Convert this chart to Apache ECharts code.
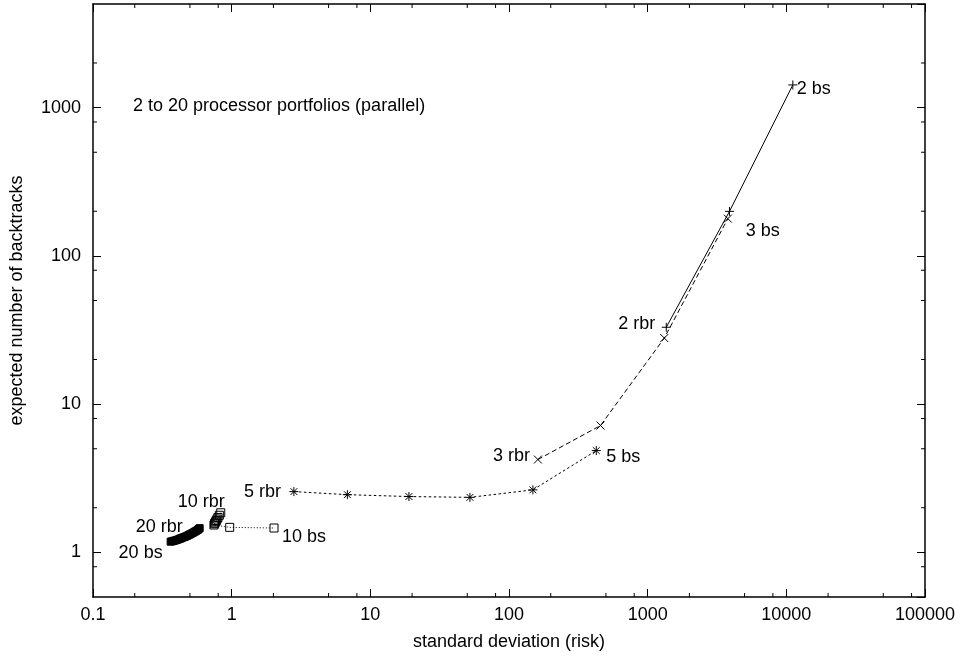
<!DOCTYPE html>
<html>
<head>
<meta charset="utf-8">
<title>Processor portfolios: risk vs expected backtracks</title>
<script src="https://cdn.jsdelivr.net/npm/echarts@6/dist/echarts.min.js"></script>
<style>
  html, body { margin: 0; padding: 0; background: #fff; }
  #chart { width: 960px; height: 657px; }
</style>
</head>
<body>
<div id="chart"></div>
<script>
// Portfolios of 2, 3, 5, 10 and 20 processors, running a mix of
// rbr and bs solvers in parallel. Each point is one mix.
const risk2 = [1362, 3890, 11140];
const back2 = [33.0, 199.6, 1423];

const risk3 = [161.6, 457, 1318, 3786];
const back3 = [4.23, 7.17, 27.9, 178.3];

const risk5 = [2.81, 6.83, 18.98, 52.3, 148.7, 426];
const back5 = [2.57, 2.45, 2.38, 2.35, 2.64, 4.86];

const risk10 = [0.834, 0.815, 0.797, 0.785, 0.775, 0.767, 0.758, 0.752, 0.745, 0.968, 2.02];
const back10 = [1.85, 1.78, 1.72, 1.68, 1.64, 1.61, 1.58, 1.56, 1.53, 1.475, 1.46];

const risk20 = [0.588, 0.578, 0.569, 0.555, 0.541, 0.528, 0.515, 0.502, 0.490, 0.478, 0.466,
                0.455, 0.443, 0.432, 0.422, 0.411, 0.401, 0.391, 0.382, 0.372, 0.363];
const back20 = [1.457, 1.436, 1.417, 1.397, 1.377, 1.359, 1.341, 1.325, 1.309, 1.294, 1.280,
                1.269, 1.257, 1.245, 1.234, 1.222, 1.212, 1.203, 1.196, 1.188, 1.181];

// End-point names for each portfolio line
const endNames2 = ['2 rbr', '2 bs'];
const endNames3 = ['3 rbr', '3 bs'];
const endNames5 = ['5 rbr', '5 bs'];
const endNames10 = ['10 rbr', '10 bs'];
const endNames20 = ['20 rbr', '20 bs'];

const plotTitle = '2 to 20 processor portfolios (parallel)';
const xAxisTitle = 'standard deviation (risk)';
const yAxisTitle = 'expected number of backtracks';

// Axis ranges and the minor tick marks (2, 5, 8 within each decade)
const xRange = [0.1, 100000];
const yRange = [0.5, 5000];
const xMinorTicks = [0.2, 0.5, 0.8, 2, 5, 8, 20, 50, 80, 200, 500, 800,
                     2000, 5000, 8000, 20000, 50000, 80000];
const yMinorTicks = [0.8, 2, 5, 8, 20, 50, 80, 200, 500, 800, 2000];

const FONT = '"Liberation Sans", Arial, Helvetica, sans-serif';
const INK = '#000';

const SYM_PLUS = 'path://M0,5L10,5M5,0L5,10';
const SYM_CROSS = 'path://M0,0L10,10M10,0L0,10';
const SYM_STAR = 'path://M0,5L10,5M5,0L5,10M1.2,1.2L8.8,8.8M8.8,1.2L1.2,8.8';
const SYM_BOX = 'path://M0,0L10,0L10,10L0,10Z';

function makeData(xs, ys, names, labelFirst, labelLast) {
  return xs.map((x, i) => {
    const item = { value: [x, ys[i]] };
    let spec = null, text = null;
    if (i === 0) { spec = labelFirst; text = names[0]; }
    if (i === xs.length - 1) { spec = labelLast; text = names[1]; }
    if (spec) {
      item.label = {
        show: true,
        formatter: text,
        position: 'inside',
        align: spec.align,
        verticalAlign: 'middle',
        color: INK,
        fontFamily: FONT,
        fontSize: 18
      };
    }
    return item;
  });
}

function lineSeries(name, xs, ys, names, labelFirst, labelLast, symbol, size, dash, fill) {
  const last = xs.length - 1;
  return {
    name: name,
    type: 'line',
    data: makeData(xs, ys, names, labelFirst, labelLast),
    symbol: symbol,
    symbolSize: size,
    showAllSymbol: true,
    animation: false,
    lineStyle: { color: INK, width: 1, type: dash },
    itemStyle: { color: fill, borderColor: INK, borderWidth: 1 },
    label: { show: false },
    // shift each end label away from its point
    labelLayout: params => {
      const spec = params.dataIndex === 0 ? labelFirst : (params.dataIndex === last ? labelLast : null);
      if (!spec) return {};
      return { dx: spec.offset[0], dy: spec.offset[1], hideOverlap: false, moveOverlap: null };
    },
    emphasis: { disabled: true },
    z: 3
  };
}

const axisText = { color: INK, fontFamily: FONT, fontSize: 18 };
const fmt = v => String(+(+v).toPrecision(6));

function xAxisDef(pos, withLabels) {
  return {
    type: 'log', logBase: 10, position: pos,
    min: xRange[0], max: xRange[1],
    name: withLabels ? xAxisTitle : '',
    nameLocation: 'middle', nameGap: 36,
    nameTextStyle: axisText,
    axisLine: { show: true, onZero: false, lineStyle: { color: INK, width: 1.5 } },
    axisTick: { show: true, inside: true, length: 8, lineStyle: { color: INK, width: 1 } },
    axisLabel: Object.assign({ show: withLabels, margin: 9, formatter: fmt }, axisText),
    splitLine: { show: false },
    minorTick: { show: false }
  };
}

function yAxisDef(pos, withLabels) {
  return {
    type: 'log', logBase: 10, position: pos,
    min: yRange[0], max: yRange[1],
    name: withLabels ? yAxisTitle : '',
    nameLocation: 'middle', nameGap: 67, nameRotate: 90,
    nameTextStyle: axisText,
    axisLine: { show: true, onZero: false, lineStyle: { color: INK, width: 1.5 } },
    axisTick: { show: true, inside: true, length: 8, lineStyle: { color: INK, width: 1 } },
    axisLabel: Object.assign({ show: withLabels, margin: 12, formatter: fmt,
                               showMinLabel: false, showMaxLabel: false }, axisText),
    splitLine: { show: false },
    minorTick: { show: false }
  };
}

// Minor tick marks drawn on both the bottom/top and left/right frame edges
const minorX = {
  type: 'custom', coordinateSystem: 'cartesian2d', silent: true, z: 5, animation: false,
  data: xMinorTicks.map(v => [v, 1]),
  renderItem: (params, api) => {
    const p = api.coord([api.value(0), 1]);
    const cs = params.coordSys;
    const st = { stroke: INK, lineWidth: 1 };
    return { type: 'group', children: [
      { type: 'line', shape: { x1: p[0], y1: cs.y + cs.height, x2: p[0], y2: cs.y + cs.height - 4 }, style: st },
      { type: 'line', shape: { x1: p[0], y1: cs.y, x2: p[0], y2: cs.y + 4 }, style: st }
    ]};
  }
};
const minorY = {
  type: 'custom', coordinateSystem: 'cartesian2d', silent: true, z: 5, animation: false,
  data: yMinorTicks.map(v => [1, v]),
  renderItem: (params, api) => {
    const p = api.coord([1, api.value(1)]);
    const cs = params.coordSys;
    const st = { stroke: INK, lineWidth: 1 };
    return { type: 'group', children: [
      { type: 'line', shape: { x1: cs.x, y1: p[1], x2: cs.x + 4, y2: p[1] }, style: st },
      { type: 'line', shape: { x1: cs.x + cs.width, y1: p[1], x2: cs.x + cs.width - 4, y2: p[1] }, style: st }
    ]};
  }
};

const chart = echarts.init(document.getElementById('chart'), null, { renderer: 'canvas' });
chart.setOption({
  backgroundColor: '#fff',
  animation: false,
  title: {
    text: plotTitle, left: 133, top: 97, padding: 0,
    textStyle: { color: INK, fontFamily: FONT, fontSize: 18, fontWeight: 'normal' }
  },
  grid: { left: 92, right: 35, top: 4, bottom: 60, containLabel: false },
  xAxis: [xAxisDef('bottom', true), xAxisDef('top', false)],
  yAxis: [yAxisDef('left', true), yAxisDef('right', false)],
  series: [
    lineSeries('2', risk2, back2, endNames2,
      { align: 'right', offset: [-11, -3] }, { align: 'left', offset: [4, 4] },
      SYM_PLUS, 9, 'solid', INK),
    lineSeries('3', risk3, back3, endNames3,
      { align: 'right', offset: [-8, -3] }, { align: 'left', offset: [18, 12] },
      SYM_CROSS, 8, [5, 3], INK),
    lineSeries('5', risk5, back5, endNames5,
      { align: 'right', offset: [-13, 0] }, { align: 'left', offset: [10, 6] },
      SYM_STAR, 9, [2.5, 2.5], INK),
    lineSeries('10', risk10, back10, endNames10,
      { align: 'right', offset: [4, -11] }, { align: 'left', offset: [8, 9] },
      SYM_BOX, 8, [1, 2], 'transparent'),
    lineSeries('20', risk20, back20, endNames20,
      { align: 'right', offset: [-17, -1] }, { align: 'right', offset: [-8, 11] },
      'rect', 7, [4, 2, 1, 2], INK),
    minorX,
    minorY
  ]
});
</script>
</body>
</html>
